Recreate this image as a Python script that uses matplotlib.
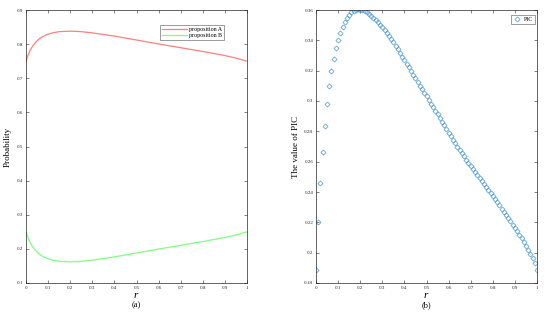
import matplotlib
matplotlib.use("Agg")
import matplotlib.pyplot as plt
import numpy as np

plt.rcParams['font.family'] = ['Liberation Serif', 'DejaVu Serif']

# Left panel: probabilities of propositions A and B vs r
r_line = [0, .01, .02, .03, .04, .05, .06, .07, .08, .09, .10, .12, .15, .20,
          .25, .30, .40, .50, .60, .70, .80, .90, .95, 1.0]
prop_a = [.750, .769, .7835, .794, .8025, .8095, .8155, .820, .8235, .8265, .829,
          .833, .8365, .838, .8365, .833, .8235, .812, .8005, .7895, .7785, .7665,
          .759, .750]
prop_b = [.250, .231, .2165, .206, .1975, .1905, .1845, .180, .1765, .1735, .171,
          .167, .1635, .162, .1635, .167, .1765, .188, .1995, .2105, .2215, .2335,
          .241, .250]

# Right panel: PIC values at r = 0, 0.01, ..., 1
r_pic = [i / 100 for i in range(101)]
pic = [0.1889, 0.2204, 0.2462, 0.2665, 0.2833, 0.2977, 0.3097, 0.3197, 0.3280, 0.3347,
       0.3404, 0.3450, 0.3490, 0.3522, 0.3549, 0.3570, 0.3585, 0.3596, 0.3602, 0.3604,
       0.3602, 0.3598, 0.3592, 0.3584, 0.3574, 0.3562, 0.3549, 0.3535, 0.3520, 0.3504,
       0.3487, 0.3469, 0.3450, 0.3430, 0.3409, 0.3388, 0.3365, 0.3341, 0.3317, 0.3293,
       0.3269, 0.3245, 0.3221, 0.3197, 0.3173, 0.3149, 0.3125, 0.3101, 0.3078, 0.3054,
       0.3031, 0.3007, 0.2983, 0.2959, 0.2935, 0.2911, 0.2887, 0.2863, 0.2839, 0.2815,
       0.2792, 0.2769, 0.2746, 0.2723, 0.2700, 0.2678, 0.2656, 0.2635, 0.2614, 0.2593,
       0.2572, 0.2551, 0.2531, 0.2511, 0.2491, 0.2471, 0.2451, 0.2431, 0.2411, 0.2391,
       0.2371, 0.2351, 0.2331, 0.2311, 0.2290, 0.2269, 0.2248, 0.2227, 0.2206, 0.2185,
       0.2163, 0.2141, 0.2118, 0.2095, 0.2071, 0.2046, 0.2020, 0.1993, 0.1965, 0.1930,
       0.1889]

x_ticks = [0, 0.1, 0.2, 0.3, 0.4, 0.5, 0.6, 0.7, 0.8, 0.9, 1]
x_labels = ['0', '0.1', '0.2', '0.3', '0.4', '0.5', '0.6', '0.7', '0.8', '0.9', '1']
left_yticks = [0.1, 0.2, 0.3, 0.4, 0.5, 0.6, 0.7, 0.8, 0.9]
left_ylabels = ['0.1', '0.2', '0.3', '0.4', '0.5', '0.6', '0.7', '0.8', '0.9']
right_yticks = [0.18, 0.20, 0.22, 0.24, 0.26, 0.28, 0.30, 0.32, 0.34, 0.36]
right_ylabels = ['0.18', '0.2', '0.22', '0.24', '0.26', '0.28', '0.3', '0.32', '0.34', '0.36']

W, H = 550, 315
fig = plt.figure(figsize=(W / 100, H / 100), dpi=100)
ax1 = fig.add_axes([26 / W, (H - 283) / H, 221 / W, 273 / H])
ax2 = fig.add_axes([316 / W, (H - 283) / H, 221 / W, 273 / H])

spine_col = '#262626'
for ax in (ax1, ax2):
    for s in ax.spines.values():
        s.set_color(spine_col)
        s.set_linewidth(0.5)
    ax.tick_params(direction='in', length=2, width=0.4, color=spine_col,
                   labelsize=3.6, labelcolor=spine_col, top=True, right=True, pad=2)
    ax.set_xlim(0, 1)
    ax.set_xticks(x_ticks)
    ax.set_xticklabels(x_labels)

ax1.plot(r_line, prop_a, color='#ff7f7f', lw=0.9, label='proposition A')
ax1.plot(r_line, prop_b, color='#7fff7f', lw=0.9, label='proposition B')
ax1.set_ylim(0.1, 0.9)
ax1.set_yticks(left_yticks)
ax1.set_yticklabels(left_ylabels)
leg1 = ax1.legend(loc='upper right', bbox_to_anchor=(0.895, 0.945), fontsize=4.3,
                  frameon=True, fancybox=False, edgecolor=spine_col, handlelength=4.2,
                  borderpad=0.3, labelspacing=0.2, handletextpad=0.3, borderaxespad=0)
leg1.get_frame().set_linewidth(0.4)

ax2.plot(r_pic, pic, linestyle='none', marker='D', markersize=2.6,
         markerfacecolor='none', markeredgecolor='#4a9ad6', markeredgewidth=0.5,
         label='PIC')
ax2.set_ylim(0.18, 0.36)
ax2.set_yticks(right_yticks)
ax2.set_yticklabels(right_ylabels)
leg2 = ax2.legend(loc='upper right', bbox_to_anchor=(0.99, 0.98), fontsize=4.3,
                  frameon=True, fancybox=False, edgecolor=spine_col, handlelength=1.5,
                  borderpad=0.3, handletextpad=0.3, borderaxespad=0)
leg2.get_frame().set_linewidth(0.4)

ax1.set_ylabel('Probability', fontsize=6.5)
ax1.yaxis.set_label_coords(-0.063, 0.5)
ax2.set_ylabel('The value of PIC', fontsize=6.5)
ax2.yaxis.set_label_coords(-0.072, 0.5)

fig.text(136 / W, 1 - 296 / H, 'r', fontsize=8, style='italic', ha='center', va='center')
fig.text(136 / W, 1 - 305.5 / H, '(a)', fontsize=6, ha='center', va='center')
fig.text(426 / W, 1 - 296 / H, 'r', fontsize=8, style='italic', ha='center', va='center')
fig.text(426 / W, 1 - 305.5 / H, '(b)', fontsize=6, ha='center', va='center')

fig.savefig('out.png', dpi=100)
